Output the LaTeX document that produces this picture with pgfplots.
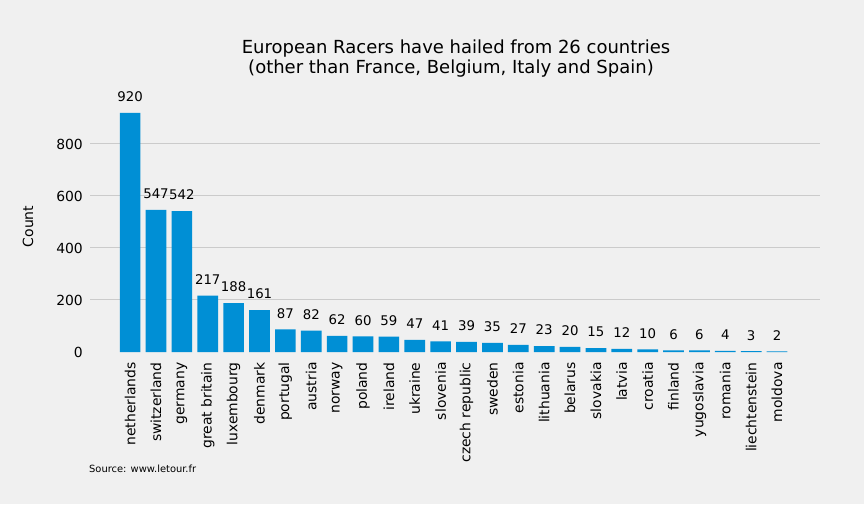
\documentclass[border=0pt]{standalone}
\usepackage{pgfplots}
\pgfplotsset{compat=1.18}
\usepackage{fontspec}
\setmainfont{DejaVu Sans}
\definecolor{bgc}{HTML}{F0F0F0}
\definecolor{barc}{HTML}{008FD5}
\definecolor{gridc}{HTML}{CBCBCB}
\begin{document}
\begin{tikzpicture}[x=1pt,y=1pt]
\fill[bgc] (0,0) rectangle (864,504);
\begin{axis}[
  at={(90pt,152pt)}, anchor=south west,
  scale only axis, width=730pt, height=251.2pt,
  xmin=-1.55, xmax=26.66, ymin=0, ymax=966,
  axis line style={draw=none},
  tick style={draw=none},
  ybar, bar width=20.7pt, bar shift=0pt,
  xtick=data,
  xticklabels={netherlands,switzerland,germany,great britain,luxembourg,denmark,portugal,austria,norway,poland,ireland,ukraine,slovenia,czech republic,sweden,estonia,lithuania,belarus,slovakia,latvia,croatia,finland,yugoslavia,romania,liechtenstein,moldova},
  xticklabel style={rotate=90, anchor=east, inner sep=0pt, font=\fontsize{13.9}{14}\selectfont, yshift=0pt, xshift=-6pt},
  ytick={200,400,600,800},
  extra y ticks={0}, extra y tick style={grid=none},
  ymajorgrids, major grid style={gridc, line width=1pt},
  yticklabel style={anchor=east, inner sep=0pt, xshift=-7pt, font=\fontsize{13.9}{14}\selectfont},
  /pgf/number format/assume math mode=true,
  nodes near coords,
  every node near coord/.append style={anchor=center, yshift=16pt, font=\fontsize{13.3}{14}\selectfont, black},
  clip=false,
]
\addplot[fill=barc, draw=none] coordinates {
(0,920) (1,547) (2,542) (3,217) (4,188) (5,161) (6,87) (7,82) (8,62) (9,60)
(10,59) (11,47) (12,41) (13,39) (14,35) (15,27) (16,23) (17,20) (18,15) (19,12)
(20,10) (21,6) (22,6) (23,4) (24,3) (25,2)};
\end{axis}
\node[anchor=base, inner sep=0pt, font=\fontsize{18}{20}\selectfont] at (456,450.7) {European Racers have hailed from 26 countries};
\node[anchor=base, inner sep=0pt, font=\fontsize{18}{20}\selectfont] at (451,430) {(other than France, Belgium, Italy and Spain)};
\node[rotate=90, inner sep=0pt, font=\fontsize{14}{15}\selectfont] at (28,277.5) {Count};
\node[anchor=base west, inner sep=0pt, font=\fontsize{9.9}{11}\selectfont] at (89,32) {Source: www.letour.fr};
\end{tikzpicture}
\end{document}
